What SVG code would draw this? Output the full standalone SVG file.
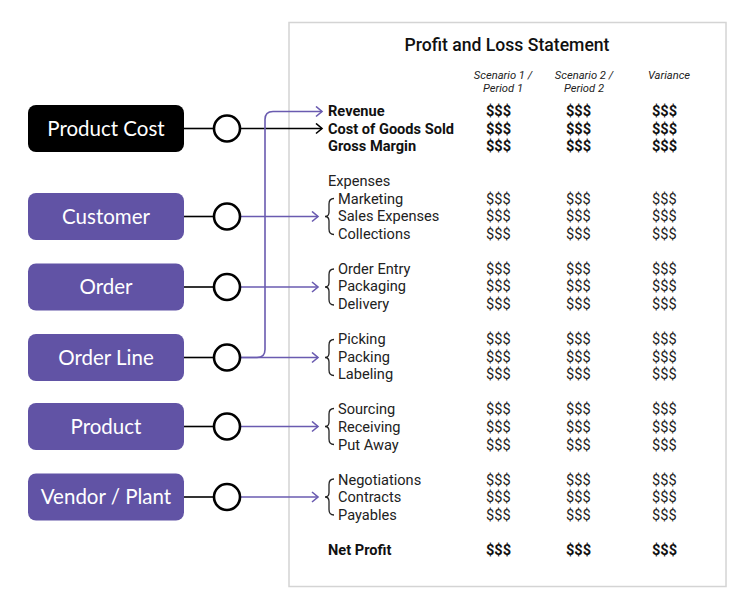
<svg xmlns="http://www.w3.org/2000/svg" width="750" height="609" viewBox="0 0 750 609">
<defs>
<style>
.node{fill:#6153a5;}
.nt{font-family:Lato,"Open Sans",sans-serif;font-size:20.5px;fill:#fff;text-anchor:middle;}
.circ{fill:#fff;stroke:#000;stroke-width:2.6;}
.k{stroke:#000;stroke-width:1.6;fill:none;}
.p{stroke:#6a5bb0;stroke-width:1.6;fill:none;}
.title{font-family:Roboto,sans-serif;font-size:17.6px;font-weight:500;fill:#111;text-anchor:middle;}
.hd{font-family:Roboto,sans-serif;font-size:11.2px;font-style:italic;fill:#222;text-anchor:middle;}
.r{font-family:Roboto,sans-serif;font-size:14.6px;fill:#222;}
.b{font-weight:bold;fill:#111;}
.brace{stroke:#222;stroke-width:1.3;fill:none;}
</style>
<marker id="ak" markerWidth="10" markerHeight="12" refX="8" refY="6" orient="auto" markerUnits="userSpaceOnUse"><path d="M2,1 L8,6 L2,11" fill="none" stroke="#000" stroke-width="1.6"/></marker>
<marker id="ap" markerWidth="10" markerHeight="12" refX="8" refY="6" orient="auto" markerUnits="userSpaceOnUse"><path d="M2,1 L8,6 L2,11" fill="none" stroke="#6a5bb0" stroke-width="1.6"/></marker>
</defs>
<rect x="289" y="22.5" width="437" height="564" fill="#fff" stroke="#d4d4d4" stroke-width="1.5"/>

<g id="connectors">
<line class="k" x1="184" y1="128.5" x2="214" y2="128.5"/>
<line class="k" x1="240" y1="128.5" x2="322" y2="128.5" marker-end="url(#ak)"/>
<line class="k" x1="184" y1="216.5" x2="214" y2="216.5"/>
<line class="p" x1="240" y1="216.5" x2="318" y2="216.5" marker-end="url(#ap)"/>
<line class="k" x1="184" y1="287" x2="214" y2="287"/>
<line class="p" x1="240" y1="287" x2="318" y2="287" marker-end="url(#ap)"/>
<line class="k" x1="184" y1="357.5" x2="214" y2="357.5"/>
<line class="p" x1="240" y1="357.5" x2="318" y2="357.5" marker-end="url(#ap)"/>
<path class="p" d="M240,357.5 L257,357.5 Q265,357.5 265,349.5 L265,119.5 Q265,111.5 273,111.5 L322,111.5" marker-end="url(#ap)"/>
<line class="k" x1="184" y1="426.5" x2="214" y2="426.5"/>
<line class="p" x1="240" y1="426.5" x2="318" y2="426.5" marker-end="url(#ap)"/>
<line class="k" x1="184" y1="497" x2="214" y2="497"/>
<line class="p" x1="240" y1="497" x2="318" y2="497" marker-end="url(#ap)"/>
</g>

<g id="n-product-cost"><rect x="28" y="105" width="156" height="47" rx="8" fill="#000"/><text class="nt" x="106" y="135.5">Product Cost</text><circle class="circ" cx="227" cy="128.5" r="13"/></g>
<g id="n-customer"><rect class="node" x="28" y="193" width="156" height="47" rx="8"/><text class="nt" x="106" y="223.5">Customer</text><circle class="circ" cx="227" cy="216.5" r="13"/></g>
<g id="n-order"><rect class="node" x="28" y="263.5" width="156" height="47" rx="8"/><text class="nt" x="106" y="294">Order</text><circle class="circ" cx="227" cy="287" r="13"/></g>
<g id="n-order-line"><rect class="node" x="28" y="334" width="156" height="47" rx="8"/><text class="nt" x="106" y="364.5">Order Line</text><circle class="circ" cx="227" cy="357.5" r="13"/></g>
<g id="n-product"><rect class="node" x="28" y="403" width="156" height="47" rx="8"/><text class="nt" x="106" y="433.5">Product</text><circle class="circ" cx="227" cy="426.5" r="13"/></g>
<g id="n-vendor"><rect class="node" x="28" y="473.5" width="156" height="47" rx="8"/><text class="nt" x="106" y="504">Vendor / Plant</text><circle class="circ" cx="227" cy="497" r="13"/></g>

<g id="statement">
<text class="title" x="507" y="50.5">Profit and Loss Statement</text>
<text class="hd" x="503" y="79">Scenario 1 /</text>
<text class="hd" x="503" y="92">Period 1</text>
<text class="hd" x="584" y="79">Scenario 2 /</text>
<text class="hd" x="584" y="92">Period 2</text>
<text class="hd" x="669" y="79">Variance</text>

<g class="r b">
<text x="328" y="115.5">Revenue</text>
<text x="328" y="133.5">Cost of Goods Sold</text>
<text x="328" y="151">Gross Margin</text>
<text x="328" y="554.5">Net Profit</text>
</g>
<g class="r">
<text x="328" y="186">Expenses</text>
<text x="338" y="203.5">Marketing</text>
<text x="338" y="221">Sales Expenses</text>
<text x="338" y="238.5">Collections</text>
<text x="338" y="273.5">Order Entry</text>
<text x="338" y="291">Packaging</text>
<text x="338" y="308.5">Delivery</text>
<text x="338" y="344">Picking</text>
<text x="338" y="361.5">Packing</text>
<text x="338" y="379">Labeling</text>
<text x="338" y="414">Sourcing</text>
<text x="338" y="432">Receiving</text>
<text x="338" y="449.5">Put Away</text>
<text x="338" y="484.5">Negotiations</text>
<text x="338" y="502">Contracts</text>
<text x="338" y="519.5">Payables</text>
</g>

<path class="brace" d="M334,198.5 Q329,198.5 329,204 L329,212 Q329,216.5 325,216.5 Q329,216.5 329,221 L329,229 Q329,234.5 334,234.5"/>
<path class="brace" d="M334,269 Q329,269 329,274.5 L329,282.5 Q329,287 325,287 Q329,287 329,291.5 L329,299.5 Q329,305 334,305"/>
<path class="brace" d="M334,339.5 Q329,339.5 329,345 L329,353 Q329,357.5 325,357.5 Q329,357.5 329,362 L329,370 Q329,375.5 334,375.5"/>
<path class="brace" d="M334,408.5 Q329,408.5 329,414 L329,422 Q329,426.5 325,426.5 Q329,426.5 329,431 L329,439 Q329,444.5 334,444.5"/>
<path class="brace" d="M334,479 Q329,479 329,484.5 L329,492.5 Q329,497 325,497 Q329,497 329,501.5 L329,509.5 Q329,515 334,515"/>

<g class="r b">
<text x="486" y="115.5">$$$</text><text x="566" y="115.5">$$$</text><text x="652" y="115.5">$$$</text>
<text x="486" y="133.5">$$$</text><text x="566" y="133.5">$$$</text><text x="652" y="133.5">$$$</text>
<text x="486" y="151">$$$</text><text x="566" y="151">$$$</text><text x="652" y="151">$$$</text>
<text x="486" y="554.5">$$$</text><text x="566" y="554.5">$$$</text><text x="652" y="554.5">$$$</text>
</g>
<g class="r">
<text x="486" y="203.5">$$$</text><text x="566" y="203.5">$$$</text><text x="652" y="203.5">$$$</text>
<text x="486" y="221">$$$</text><text x="566" y="221">$$$</text><text x="652" y="221">$$$</text>
<text x="486" y="238.5">$$$</text><text x="566" y="238.5">$$$</text><text x="652" y="238.5">$$$</text>
<text x="486" y="273.5">$$$</text><text x="566" y="273.5">$$$</text><text x="652" y="273.5">$$$</text>
<text x="486" y="291">$$$</text><text x="566" y="291">$$$</text><text x="652" y="291">$$$</text>
<text x="486" y="308.5">$$$</text><text x="566" y="308.5">$$$</text><text x="652" y="308.5">$$$</text>
<text x="486" y="344">$$$</text><text x="566" y="344">$$$</text><text x="652" y="344">$$$</text>
<text x="486" y="361.5">$$$</text><text x="566" y="361.5">$$$</text><text x="652" y="361.5">$$$</text>
<text x="486" y="379">$$$</text><text x="566" y="379">$$$</text><text x="652" y="379">$$$</text>
<text x="486" y="414">$$$</text><text x="566" y="414">$$$</text><text x="652" y="414">$$$</text>
<text x="486" y="432">$$$</text><text x="566" y="432">$$$</text><text x="652" y="432">$$$</text>
<text x="486" y="449.5">$$$</text><text x="566" y="449.5">$$$</text><text x="652" y="449.5">$$$</text>
<text x="486" y="484.5">$$$</text><text x="566" y="484.5">$$$</text><text x="652" y="484.5">$$$</text>
<text x="486" y="502">$$$</text><text x="566" y="502">$$$</text><text x="652" y="502">$$$</text>
<text x="486" y="519.5">$$$</text><text x="566" y="519.5">$$$</text><text x="652" y="519.5">$$$</text>
</g>
</g>
</svg>
